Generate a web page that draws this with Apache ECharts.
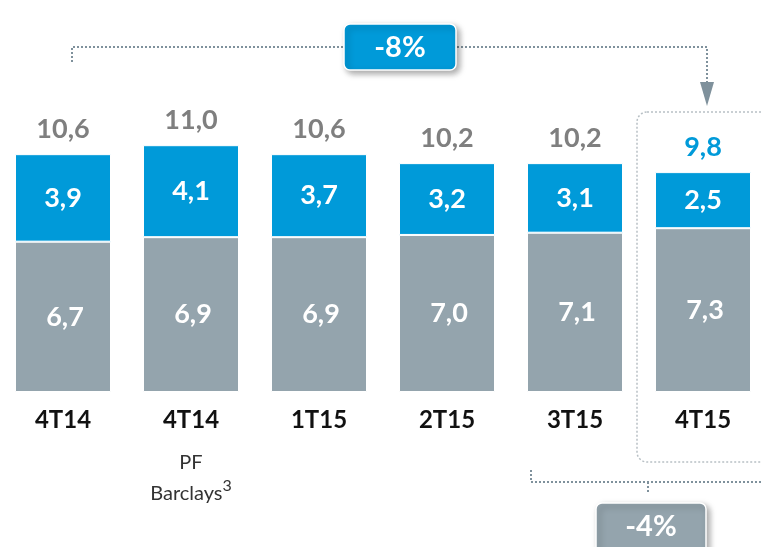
<!DOCTYPE html>
<html>
<head>
<meta charset="utf-8">
<script src="https://cdn.jsdelivr.net/npm/echarts@6/dist/echarts.min.js"></script>
<style>
  html, body { margin: 0; padding: 0; background: #fff; }
  #main { width: 761px; height: 547px; }
</style>
</head>
<body>
<div id="main"></div>
<script>
var categories = ['4T14', '4T14\n{sub|PF}\n{sub|Barclays}{sup|3}', '1T15', '2T15', '3T15', '4T15'];
var baseValues = [6.7, 6.9, 6.9, 7.0, 7.1, 7.3];
var topValues = [3.9, 4.1, 3.7, 3.2, 3.1, 2.5];
var totals = [10.6, 11.0, 10.6, 10.2, 10.2, 9.8];

var BLUE = '#009ad9';
var GREY = '#94a4ad';
var LINE = '#7f919c';
var FONT = 'Lato, "Open Sans", sans-serif';

function fmt(v) { return v.toFixed(1).replace('.', ','); }

var myChart = echarts.init(document.getElementById('main'));
myChart.setOption({
    animation: false,
    grid: { left: -1, width: 768, top: 33, bottom: 155, outerBoundsMode: 'none' },
    xAxis: {
        type: 'category',
        data: categories,
        axisLine: { show: false },
        axisTick: { show: false },
        axisLabel: {
            interval: 0,
            hideOverlap: false,
            margin: 2,
            lineHeight: 53,
            color: '#111',
            fontFamily: FONT,
            fontWeight: 'bold',
            fontSize: 24,
            rich: {
                sub: { fontFamily: FONT, fontSize: 20, fontWeight: 'normal', color: '#333', lineHeight: 31 },
                sup: { fontFamily: FONT, fontSize: 16, fontWeight: 'normal', color: '#333', lineHeight: 14, verticalAlign: 'top' }
            }
        }
    },
    yAxis: { type: 'value', min: 0, max: 16, show: false },
    series: [
        {
            type: 'bar', stack: 'a', barWidth: 96,
            data: baseValues,
            itemStyle: { color: GREY, borderColor: '#fff', borderWidth: 1 },
            label: {
                show: true, position: 'inside', color: '#fff', fontFamily: FONT,
                fontWeight: 'bold', fontSize: 27, offset: [2, 0],
                formatter: function (p) { return fmt(p.value); }
            }
        },
        {
            type: 'bar', stack: 'a', barWidth: 96,
            data: topValues,
            itemStyle: { color: BLUE, borderColor: '#fff', borderWidth: 1 },
            label: {
                show: true, position: 'inside', color: '#fff', fontFamily: FONT,
                fontWeight: 'bold', fontSize: 27,
                formatter: function (p) { return fmt(p.value); }
            }
        },
        {
            type: 'bar', barWidth: 96, barGap: '-100%', silent: true,
            data: totals.map(function (v, i) {
                return { value: v, label: { color: i === totals.length - 1 ? BLUE : '#7f7f7f' } };
            }),
            itemStyle: { color: 'rgba(0,0,0,0)' },
            label: {
                show: true, position: 'top', distance: 11, fontFamily: FONT,
                fontWeight: 'bold', fontSize: 27,
                formatter: function (p) { return fmt(p.value); }
            }
        }
    ],
    graphic: [
        // dotted frame around the last quarter
        { type: 'rect', shape: { x: 637, y: 112, width: 160, height: 350, r: 10 },
          style: { fill: 'none', stroke: '#b8c0c5', lineWidth: 1.5, lineDash: [2, 2] } },
        // top bracket
        { type: 'polyline', shape: { points: [[72, 62], [72, 47], [707, 47], [707, 84]] },
          style: { fill: 'none', stroke: LINE, lineWidth: 2, lineDash: [2, 2] } },
        { type: 'polygon', shape: { points: [[700, 82], [714, 82], [707, 106]] },
          style: { fill: LINE } },
        { type: 'rect', shape: { x: 344, y: 24, width: 112, height: 46, r: 6 },
          style: { fill: BLUE, stroke: '#fff', lineWidth: 1.5, shadowBlur: 6, shadowOffsetX: 3, shadowOffsetY: 3, shadowColor: 'rgba(0,0,0,0.35)' } },
        { type: 'text', style: { x: 400, y: 48, text: '-8%', align: 'center', verticalAlign: 'middle',
          fill: '#fff', font: 'bold 29px ' + FONT } },
        // bottom bracket
        { type: 'polyline', shape: { points: [[531, 470], [531, 482], [770, 482]] },
          style: { fill: 'none', stroke: LINE, lineWidth: 2, lineDash: [2, 2] } },
        { type: 'polyline', shape: { points: [[648, 482], [648, 493]] },
          style: { fill: 'none', stroke: LINE, lineWidth: 2, lineDash: [2, 2] } },
        { type: 'rect', shape: { x: 596, y: 503, width: 110, height: 60, r: 6 },
          style: { fill: GREY, stroke: '#fff', lineWidth: 1.5, shadowBlur: 6, shadowOffsetX: 3, shadowOffsetY: 3, shadowColor: 'rgba(0,0,0,0.35)' } },
        { type: 'text', style: { x: 651, y: 527, text: '-4%', align: 'center', verticalAlign: 'middle',
          fill: '#fff', font: 'bold 29px ' + FONT } }
    ]
});
</script>
</body>
</html>
